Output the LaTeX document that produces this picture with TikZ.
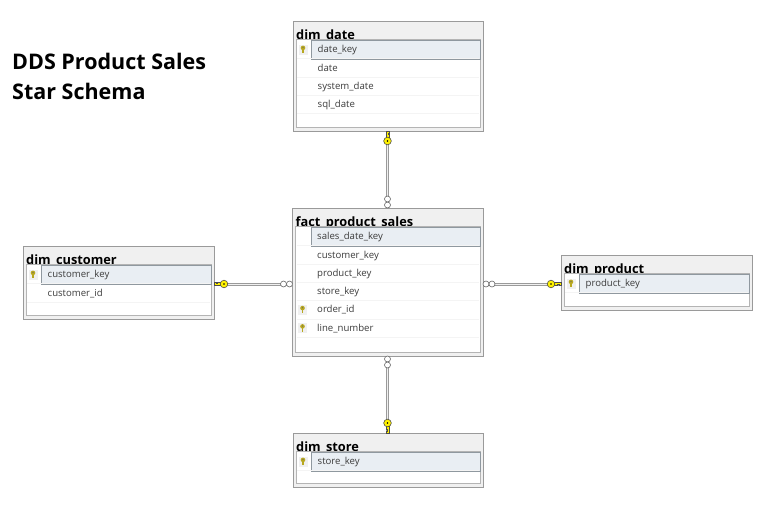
\documentclass[tikz,border=0pt]{standalone}
\usepackage{fontspec}
\setmainfont{Open Sans}
\definecolor{boxline}{HTML}{9A9A9A}
\definecolor{headfill}{HTML}{F0F0F0}
\definecolor{innerline}{HTML}{B4B4B4}
\definecolor{rowline}{HTML}{F4F4F4}
\definecolor{selfill}{HTML}{E9EEF3}
\definecolor{selline}{HTML}{8F989F}
\definecolor{keyfill}{HTML}{FFF200}
\definecolor{smallkey}{HTML}{B8A820}
\definecolor{rowtext}{HTML}{3C3C3C}
\tikzset{
  x=1pt,y=-1pt,
  tablebox/.style={draw=boxline,line width=.9pt,fill=headfill,rectangle,inner sep=0pt,outer sep=0pt},
  titletext/.style={font=\fontsize{12.8}{14}\selectfont\bfseries,anchor=base west,inner sep=0pt,text=black},
  rowlabel/.style={font=\fontsize{9.6}{11}\selectfont,anchor=base west,inner sep=0pt,text=rowtext},
  heading/.style={font=\fontsize{21.5}{26}\selectfont\bfseries,anchor=base west,inner sep=0pt,text=black},
  relation/.style={draw=boxline,line width=1pt,double=headfill,double distance=1pt},
  fkcircle/.style={draw=black!60,fill=white,line width=.6pt},
  pics/relkey/.style={code={
    \draw[black!70,fill=keyfill,line width=.5pt] (0,-1.4) -- (0,1.4) -- (7,1.4) -- (7,-1.4) -- (3.5,-1.4) -- (3.5,-.6) -- (2,-.6) -- (2,-1.4) -- cycle;
    \draw[black!70,fill=keyfill,line width=.6pt] (10,0) circle (3.8);
    \fill[black] (10,0) circle (.9);
  }},
  pics/relcircles/.style={code={
    \draw[fkcircle] (3,0) circle (3);
    \draw[fkcircle] (9,0) circle (3);
  }},
  pics/rowkey/.style={code={
    \fill[headfill] (-4.5,-5) rectangle (4.5,5);
    \fill[smallkey] (-.8,-1) rectangle (.8,3.6);
    \fill[smallkey] (0,-1.6) circle (2.3);
    \fill[black!60] (0,-2) circle (.6);
  }}
}
% name, x0, y0, x1, y1, title, rows (flag/text)
\newcommand{\dbtable}[7]{%
  \node[tablebox,minimum width=#4-#2,minimum height=#5-#3] (#1) at ({(#2+#4)/2},{(#3+#5)/2}) {};
  \node[titletext] (#1title) at (#2+3,#3+18) {#6};
  \fill[white] (#2+3,#3+18) rectangle (#4-3,#5-4);
  \draw[innerline,line width=.6pt] (#2+3,#5-4) -- (#2+3,#3+18) -- (#4-3,#3+18) -- (#4-3,#5-4) -- cycle;
  \fill[selfill] (#2+18.5,#3+19) rectangle (#4-3,#3+38);
  \draw[selline,line width=.8pt] (#2+18.5,#3+19) rectangle (#4-3,#3+38);
  \foreach \flag/\txt [count=\i from 0] in {#7} {
    \pgfmathsetmacro{\rowy}{#3+28.5+18.3*\i}
    \pgfmathsetmacro{\sepy}{\rowy+9.15}
    \pgfmathsetmacro{\basey}{\rowy+3.2}
    \draw[rowline,line width=.6pt] (#2+4,\sepy) -- (#4-4,\sepy);
    \node[rowlabel] (#1row\i) at (#2+24.5,\basey) {\txt};
    \ifnum\flag=1 \pic at (#2+10,\rowy) {rowkey}; \fi
  }
}
\begin{document}
\begin{tikzpicture}
\useasboundingbox (0,0) rectangle (780,525);
\fill[white] (0,0) rectangle (780,525);

\node[heading] (headA) at (12,69) {DDS Product Sales};
\node[heading] (headB) at (12,99) {Star Schema};

\dbtable{dimdate}{293}{21}{483}{131}{dim\_date}{1/date\_key,0/date,0/system\_date,0/sql\_date}
\dbtable{fact}{292.5}{208}{483}{356}{fact\_product\_sales}{0/sales\_date\_key,0/customer\_key,0/product\_key,0/store\_key,1/order\_id,1/line\_number}
\dbtable{dimcustomer}{23}{246}{214}{319}{dim\_customer}{1/customer\_key,0/customer\_id}
\dbtable{dimproduct}{561}{255}{752}{310}{dim\_product}{1/product\_key}
\dbtable{dimstore}{293}{433}{483}{487}{dim\_store}{1/store\_key}

\coordinate (cy) at (0,284);
\coordinate (cx) at (387.5,0);
\draw[relation] (cx |- dimdate.south) -- (cx |- fact.north);
\draw[relation] (cx |- fact.south) -- (cx |- dimstore.north);
\draw[relation] (dimcustomer.east |- cy) -- (fact.west |- cy);
\draw[relation] (fact.east |- cy) -- (dimproduct.west |- cy);

\pic[rotate=-90] at (cx |- dimdate.south) {relkey};
\pic[rotate=90] at (cx |- fact.north) {relcircles};
\pic[rotate=90] at (cx |- dimstore.north) {relkey};
\pic[rotate=-90] at (cx |- fact.south) {relcircles};
\pic at (dimcustomer.east |- cy) {relkey};
\pic[rotate=180] at (fact.west |- cy) {relcircles};
\pic[rotate=180] at (dimproduct.west |- cy) {relkey};
\pic at (fact.east |- cy) {relcircles};
\end{tikzpicture}
\end{document}
